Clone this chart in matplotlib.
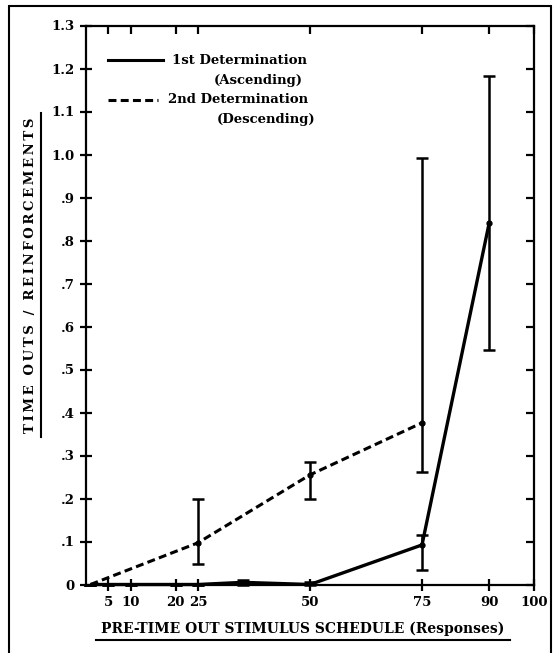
import matplotlib
matplotlib.use("Agg")
import matplotlib.pyplot as plt
import matplotlib.lines as mlines
from matplotlib.lines import Line2D
from matplotlib.patches import Rectangle

# ---- data ----
asc_x = [1, 5, 10, 20, 25, 35, 50, 75, 90]
asc_y = [0, 0, 0, 0, 0, 0.005, 0, 0.092, 0.841]
asc_lo = [0, 0, 0, 0, 0, 0.0, 0.0, 0.034, 0.545]
asc_hi = [0, 0, 0, 0, 0, 0.01, 0.005, 0.115, 1.183]

desc_x = [1, 25, 50, 75]
desc_y = [0, 0.097, 0.255, 0.376]
desc_lo = [0, 0.048, 0.198, 0.262]
desc_hi = [0, 0.199, 0.286, 0.993]

x_ticks = [5, 10, 20, 25, 50, 75, 90, 100]
y_ticks = [0, 0.1, 0.2, 0.3, 0.4, 0.5, 0.6, 0.7, 0.8, 0.9, 1.0, 1.1, 1.2, 1.3]
y_tick_labels = ["0", ".1", ".2", ".3", ".4", ".5", ".6", ".7", ".8", ".9",
                 "1.0", "1.1", "1.2", "1.3"]
legend_labels = [("1st Determination", "(Ascending)"),
                 ("2nd Determination", "(Descending)")]
x_label = "PRE-TIME OUT STIMULUS SCHEDULE (Responses)"
y_label = "TIME OUTS / REINFORCEMENTS"

FONT = "DejaVu Serif"
W, H = 553, 653
fig = plt.figure(figsize=(W / 100, H / 100), dpi=100)
ax = fig.add_axes([86 / W, 1 - 584.5 / H, (534 - 86) / W, (584.5 - 25.5) / H])
ax.set_xlim(0, 100)
ax.set_ylim(0, 1.3)

def err(y, lo, hi):
    return [[a - b for a, b in zip(y, lo)], [c - a for a, c in zip(y, hi)]]

DASH = (0, (2.6, 1.4))
ax.plot(asc_x, asc_y, color="black", lw=2.4, solid_capstyle="butt", clip_on=False, zorder=3)
ax.errorbar(asc_x, asc_y, yerr=err(asc_y, asc_lo, asc_hi), fmt="none", ecolor="black",
            elinewidth=1.8, capsize=4.5, capthick=1.8, clip_on=False, zorder=3)
ax.plot(asc_x[-2:], asc_y[-2:], "o", color="black", ms=3.5, zorder=4)

ax.plot(desc_x, desc_y, color="black", lw=2.2, ls=DASH, clip_on=False, zorder=3)
ax.errorbar(desc_x, desc_y, yerr=err(desc_y, desc_lo, desc_hi), fmt="none", ecolor="black",
            elinewidth=1.8, capsize=4.5, capthick=1.8, clip_on=False, zorder=3)
ax.plot(desc_x[1:], desc_y[1:], "o", color="black", ms=3.5, zorder=4)

for s in ax.spines.values():
    s.set_linewidth(1.6)
ax.set_xticks(x_ticks)
ax.set_xticklabels([str(t) for t in x_ticks])
ax.set_yticks(y_ticks)
ax.set_yticklabels(y_tick_labels)
ax.tick_params(axis="both", which="both", width=1.6, labelsize=9.5)
ax.tick_params(axis="y", left=True, right=True, direction="inout", length=8, pad=4)
ax.tick_params(axis="x", bottom=True, top=True, direction="inout", length=8, pad=4)
for lab in ax.get_xticklabels() + ax.get_yticklabels():
    lab.set_fontfamily(FONT)
    lab.set_fontweight("bold")
for t in ax.yaxis.get_major_ticks():
    t.tick2line.set_marker(mlines.TICKLEFT)
    t.tick2line.set_markersize(6)
for t in ax.xaxis.get_major_ticks():
    t.tick2line.set_marker(mlines.TICKDOWN)
    t.tick2line.set_markersize(6)

# legend drawn manually
legend_layout = [
    dict(y=0.938, x0=0.049, x1=0.172, tx=0.192, rx=0.484, ls="-"),
    dict(y=0.867, x0=0.049, x1=0.161, tx=0.183, rx=0.511, ls=DASH),
]
for (l1, l2), L in zip(legend_labels, legend_layout):
    ax.add_line(Line2D([L["x0"], L["x1"]], [L["y"], L["y"]], transform=ax.transAxes,
                       color="black", lw=2.2, ls=L["ls"]))
    ax.text(L["tx"], L["y"], l1, transform=ax.transAxes, ha="left", va="center",
            fontsize=9.5, fontweight="bold", family=FONT)
    ax.text(L["rx"], L["y"] - 0.036, l2, transform=ax.transAxes, ha="right",
            va="center", fontsize=9.5, fontweight="bold", family=FONT)

# axis labels with underline
xl = fig.text(303 / W, 1 - 629 / H, x_label, ha="center", va="center", fontsize=10,
              fontweight="bold", family=FONT)
yl = fig.text(31 / W, 1 - 275 / H, "\u2009".join(y_label), ha="center", va="center",
              rotation=90, fontsize=9.5, fontweight="bold", family=FONT)
fig.canvas.draw()
r = fig.canvas.get_renderer()
bx = xl.get_window_extent(r)
fig.add_artist(Line2D([(bx.x0 - 5) / W, (bx.x1 + 5) / W], [(bx.y0 - 4) / H] * 2,
                      transform=fig.transFigure, color="black", lw=1.5))
by = yl.get_window_extent(r)
fig.add_artist(Line2D([(by.x1 + 3) / W] * 2, [(by.y0 - 4) / H, (by.y1 + 4) / H],
                      transform=fig.transFigure, color="black", lw=1.5))

fig.add_artist(Rectangle((9 / W, -0.05), (551 - 9) / W, 1.05 - 6 / H,
                         transform=fig.transFigure, fill=False, ec="black", lw=1.5))

fig.savefig("out.png", dpi=100)
